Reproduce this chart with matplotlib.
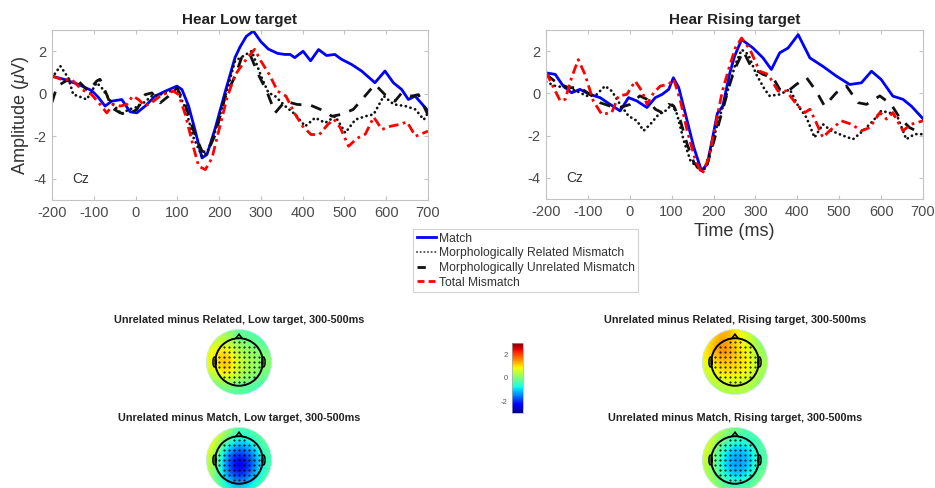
import numpy as np
import matplotlib
matplotlib.use('Agg')
import matplotlib.pyplot as plt
from matplotlib.patches import Circle, Polygon, Ellipse
from matplotlib.lines import Line2D
from matplotlib.colors import Normalize
import matplotlib.colorbar as mcolorbar

plt.rcParams['font.family'] = ['Liberation Sans', 'DejaVu Sans']
plt.rcParams['mathtext.fontset'] = 'custom'
plt.rcParams['mathtext.it'] = 'Liberation Sans:italic'
plt.rcParams['mathtext.rm'] = 'Liberation Sans'
plt.rcParams['axes.unicode_minus'] = False

# ---------------- ERP data (Cz) ----------------
# Hear Low target
low_match_t = [-200,-170,-137,-105,-90,-73,-57,-33,-13,3,23,47,71,99,111,127,143,159,171,191,215,
               238,250,265,282,300,318,340,357,370,381,401,419,438,457,477,493,517,541,573,597,617,637,653,669,700]
low_match_v = [0.83,0.67,0.44,0.15,-0.15,-0.58,-0.35,-0.27,-0.85,-0.9,-0.58,-0.11,0.12,0.36,0.2,-0.58,-1.76,-3.02,-2.86,-1.6,0.12,
               1.7,2.2,2.7,2.95,2.45,2.1,1.9,1.85,1.85,1.7,2.0,1.55,2.08,1.8,1.85,1.62,1.38,1.07,0.52,1.07,0.52,0.2,-0.27,-0.11,-0.8]

low_rel_t = [-200,-180,-161,-149,-137,-117,-105,-93,-81,-57,-33,-17,-1,19,39,59,83,99,119,139,159,171,191,214,
             238,278,302,318,334,358,382,406,430,454,478,502,526,550,570,594,618,646,670,690,700]
low_rel_v = [0.75,1.3,0.75,-0.04,-0.11,-0.27,0.12,0.52,0.28,-0.43,-0.97,-0.74,-0.66,-0.43,-0.11,-0.04,0.12,0.2,-0.66,-2.08,-2.94,-2.78,-1.76,-0.19,
             1.54,2.01,0.75,0.05,-0.11,-0.58,-0.97,-1.53,-1.13,-1.37,-1.06,-1.84,-1.22,-1.06,-0.97,-0.11,-0.5,-0.58,-0.74,-1.22,-0.9]

low_unrel_t = [-200,-188,-161,-137,-113,-93,-85,-69,-57,-37,-17,3,23,39,59,79,99,119,139,159,171,191,214,
               238,254,274,294,314,334,358,386,420,450,470,493,521,549,573,597,621,637,661,677,700]
low_unrel_v = [-0.4,0.35,0.67,0.6,0.12,0.6,0.68,-0.04,-0.66,-0.9,-0.97,-0.74,-0.04,0.04,-0.43,-0.11,0.28,-0.5,-1.76,-2.7,-2.78,-1.92,-0.19,
               0.83,1.7,1.85,0.9,0.12,-0.9,-0.35,-0.5,-0.55,-0.8,-1.06,-0.97,-0.74,-0.11,0.44,-0.04,-0.35,0.04,-0.11,-0.04,-1.0]

low_total_t = [-200,-177,-153,-129,-105,-85,-69,-53,-37,-21,-7,7,23,43,63,91,103,119,139,151,167,183,199,219,
               238,250,265,285,300,320,340,360,380,400,420,440,460,475,490,510,530,550,570,590,610,630,650,670,700]
low_total_v = [0.83,0.67,0.67,0.2,-0.04,-0.5,-0.9,-0.5,-0.58,-0.5,-0.11,-0.27,-0.58,-0.35,-0.04,0.12,-0.04,-0.97,-2.55,-3.41,-3.57,-3.02,-1.76,-0.19,
               0.87,1.22,1.62,2.09,1.54,0.91,0.12,-0.11,-0.9,-1.53,-1.92,-1.92,-1.45,-1.2,-1.6,-2.47,-2.1,-1.9,-1.1,-1.68,-1.53,-1.45,-1.33,-2.0,-1.76]

# Hear Rising target
rise_match_t = [-200,-178,-159,-139,-119,-95,-71,-47,-23,-3,17,41,61,77,93,104,117,137,153,171,185,201,209,222,238,250,
                267,294,318,338,358,378,402,430,461,493,525,553,577,600,628,652,672,700]
rise_match_v = [0.97,0.9,0.35,0.03,0.19,-0.05,-0.2,-0.52,-0.83,-0.2,-0.36,-0.67,-0.2,-0.05,0.19,0.74,0.27,-1.3,-2.56,-3.66,-3.35,-1.77,-0.95,-0.6,0.9,1.75,
                2.55,2.15,1.68,1.13,1.92,2.15,2.78,1.68,1.28,0.82,0.42,0.5,1.05,0.66,-0.13,-0.28,-0.6,-1.2]

rise_rel_t = [-200,-178,-150,-127,-103,-79,-59,-43,-23,-3,17,33,49,69,85,101,113,129,145,161,177,193,209,229,252,
              267,283,302,322,334,358,382,402,422,441,461,481,509,533,557,581,600,620,640,660,680,700]
rise_rel_v = [0.55,0.35,0.27,0.11,-0.12,-0.05,0.35,0.11,-0.52,-1.07,-1.3,-1.77,-1.46,-0.99,-0.83,-0.52,-0.99,-2.25,-3.19,-3.5,-3.66,-2.72,-1.46,-0.2,1.37,
              2.07,1.84,0.9,0.19,-0.12,-0.05,0.19,-0.6,-1.15,-2.09,-1.46,-1.77,-2.0,-2.17,-1.77,-1.3,-0.83,-0.91,-1.15,-2.17,-1.93,-1.93]

rise_unrel_t = [-200,-174,-146,-119,-95,-71,-47,-23,1,24,41,61,77,93,105,121,137,153,169,185,201,221,241,252,
                271,291,318,342,358,378,398,422,445,465,493,517,545,565,597,624,644,668,700]
rise_unrel_v = [0.9,0.5,0.27,0.27,-0.05,-0.44,-0.6,-0.67,-0.52,-0.12,-0.28,-0.75,-0.91,-0.52,-0.6,-1.3,-2.41,-3.27,-3.66,-3.35,-2.25,-0.83,0.58,1.21,
                2.0,1.21,0.9,0.74,0.19,0.11,0.43,0.74,0.11,-0.6,0.03,0.35,-0.44,-0.52,-0.12,-0.52,-1.15,-1.62,-1.93]

rise_total_t = [-200,-166,-154,-139,-123,-107,-87,-67,-43,-27,-7,13,29,41,57,73,93,105,121,137,157,173,189,205,221,237,252,
                267,287,310,330,354,374,398,418,430,445,461,477,505,529,553,573,597,613,628,652,672,700]
rise_total_v = [1.0,-0.36,-0.28,0.74,1.6,0.9,-0.36,-0.99,-0.91,-0.12,-0.05,0.58,0.11,-0.52,0.03,0.35,0.43,0.66,-0.36,-1.77,-3.19,-3.82,-3.03,-1.46,0.11,1.21,2.15,
                2.62,2.07,1.05,0.9,0.11,0.11,-0.52,-0.91,-0.75,-1.38,-2.09,-1.77,-1.3,-1.46,-1.77,-1.62,-0.91,-1.22,-0.91,-1.77,-1.46,-1.3]

legend_labels = ['Match', 'Morphologically Related Mismatch',
                 'Morphologically Unrelated Mismatch', 'Total Mismatch']
x_ticks = [-200, -100, 0, 100, 200, 300, 400, 500, 600, 700]
y_ticks = [-4, -2, 0, 2]

# ---------------- Topographic map values (5x5 grid, front row first) ----------------
topo_low_rel = [[0.2, 0.3, -0.3, -0.3, -0.6],
                [0.8, 1.1, 0.3, 0.2, -0.1],
                [0.8, 1.6, 0.5, 0.3, 0.1],
                [0.4, 1.2, 0.4, 0.2, -0.1],
                [-0.4, -0.2, -0.3, -0.4, -0.6]]
topo_low_match = [[1.1, 0.4, -0.5, -0.3, 0.0],
                  [0.9, -0.8, -1.5, -1.0, -0.2],
                  [0.6, -1.6, -2.7, -1.9, -0.4],
                  [0.4, -1.4, -2.5, -1.6, -0.3],
                  [0.3, -0.6, -1.0, -0.6, 0.0]]
topo_rise_rel = [[0.7, 1.5, 1.0, 0.6, -0.1],
                 [1.0, 1.9, 1.2, 0.8, 0.1],
                 [0.8, 1.3, 1.1, 1.0, 0.3],
                 [0.5, 1.0, 1.0, 0.8, 0.2],
                 [0.2, 0.3, 0.4, 0.3, 0.0]]
topo_rise_match = [[0.9, 0.3, 0.0, -0.4, -0.2],
                   [0.8, -0.5, -1.1, -0.9, -0.2],
                   [0.6, -0.9, -1.5, -1.3, -0.3],
                   [0.4, -0.7, -1.3, -1.0, 0.0],
                   [0.6, 0.0, -0.4, -0.2, 0.3]]
topo_titles = ['Unrelated minus Related, Low target, 300-500ms',
               'Unrelated minus Match, Low target, 300-500ms',
               'Unrelated minus Related, Rising target, 300-500ms',
               'Unrelated minus Match, Rising target, 300-500ms']
cbar_ticks = [-2, 0, 2]

# ---------------- Figure ----------------
W, H = 935, 488
fig = plt.figure(figsize=(W / 100, H / 100), dpi=100)

def fx(px):
    return px / W

def fy(py):
    return 1 - py / H

axL = fig.add_axes([fx(52), fy(200), fx(376), 170 / H])
axR = fig.add_axes([fx(546), fy(199), fx(377), 169 / H])

DOT = (0, (0.05, 1.7))
DASH = (0, (4.0, 3.5))
DASHDOT = (0, (3.5, 1.6, 1.0, 1.6))

def plot_erp(ax, m, r, u, tt, title):
    ax.plot(m[0], m[1], color=(0, 0, 1), lw=2.0, solid_joinstyle='round')
    ax.plot(r[0], r[1], color='#111111', lw=2.0, linestyle=DOT, dash_capstyle='round')
    ax.plot(u[0], u[1], color='#111111', lw=2.0, linestyle=DASH)
    ax.plot(tt[0], tt[1], color=(1, 0, 0), lw=2.0, linestyle=DASHDOT)
    ax.set_xlim(-200, 700)
    ax.set_ylim(-5, 3)
    ax.set_xticks(x_ticks)
    ax.set_yticks(y_ticks)
    for s in ax.spines.values():
        s.set_color('#c4c4c4')
        s.set_linewidth(0.8)
    ax.tick_params(direction='in', length=3, color='#c4c4c4', labelcolor='#4a4a4a',
                   labelsize=10.5, top=True, right=True, pad=4)
    ax.set_title(title, fontweight='bold', fontsize=11, pad=4, color='#222222')
    ax.text(-152, -4, 'Cz', fontsize=10, color='#333333', va='center')

plot_erp(axL, (low_match_t, low_match_v), (low_rel_t, low_rel_v),
         (low_unrel_t, low_unrel_v), (low_total_t, low_total_v), 'Hear Low target')
plot_erp(axR, (rise_match_t, rise_match_v), (rise_rel_t, rise_rel_v),
         (rise_unrel_t, rise_unrel_v), (rise_total_t, rise_total_v), 'Hear Rising target')

axL.set_ylabel('Amplitude ($\\mu$V)', fontsize=13, color='#333333', labelpad=2)
axR.set_xlabel('Time (ms)', fontsize=13, color='#333333', labelpad=3)

handles = [Line2D([], [], color=(0, 0, 1), lw=2.0),
           Line2D([], [], color='#555555', lw=1.5, linestyle=DOT, dash_capstyle='round'),
           Line2D([], [], color='#111111', lw=2.0, linestyle=(0, (3.0, 8.0))),
           Line2D([], [], color=(1, 0, 0), lw=2.0, linestyle=(0, (2.5, 1.5)))]
leg = fig.legend(handles, legend_labels, loc='upper left',
                 bbox_to_anchor=(fx(413), fy(229)), fontsize=8.7,
                 frameon=True, fancybox=False, edgecolor='#c8c8c8',
                 handlelength=1.6, handletextpad=0.25, labelspacing=0.22,
                 borderpad=0.3, borderaxespad=0.0)
leg.get_frame().set_linewidth(0.8)
for t in leg.get_texts():
    t.set_color('#333333')

# ---------------- Topographic maps ----------------
norm = Normalize(vmin=-3, vmax=3)
cmap = plt.get_cmap('jet')

def topo(cx, cy, r, grid, title, ty):
    ax = fig.add_axes([fx(cx - r), fy(cy + r), fx(2 * r), 2 * r / H])
    ax.set_xlim(-1, 1)
    ax.set_ylim(-1, 1)
    ax.set_aspect('auto')
    ax.axis('off')
    im = ax.imshow(np.array(grid), extent=[-1, 1, -1, 1], origin='upper',
                   cmap=cmap, norm=norm, interpolation='bicubic')
    clip = Circle((0, 0), 0.99, transform=ax.transData)
    im.set_clip_path(clip)
    ax.add_patch(Circle((0, 0), 0.99, fill=False, ec='#cde8f5', lw=0.6))
    hr = 0.72
    ax.add_patch(Circle((0, 0), hr, fill=False, ec='black', lw=1.4))
    ax.add_patch(Polygon([[-0.1, hr - 0.01], [0, hr + 0.12], [0.1, hr - 0.01]],
                         closed=False, fill=False, ec='black', lw=1.2))
    ax.add_patch(Ellipse((-hr - 0.02, 0.0), 0.1, 0.3, fill=False, ec='black', lw=1.1))
    ax.add_patch(Ellipse((hr + 0.02, 0.0), 0.1, 0.3, fill=False, ec='black', lw=1.1))
    g = np.arange(-0.6, 0.61, 0.15)
    gx, gy = np.meshgrid(g, g)
    mask = gx ** 2 + gy ** 2 < 0.64 ** 2
    ax.plot(gx[mask], gy[mask], 'k.', ms=1.0)
    fig.text(fx(cx), fy(ty), title, fontsize=7.8, fontweight='bold',
             ha='center', va='center', color='#222222')
    return ax

topo(239, 362, 33, topo_low_rel, topo_titles[0], 320)
topo(239, 460, 33, topo_low_match, topo_titles[1], 418)
topo(735, 362, 33, topo_rise_rel, topo_titles[2], 320)
topo(735, 460, 33, topo_rise_match, topo_titles[3], 418)

cax = fig.add_axes([fx(512), fy(413), fx(11), 70 / H])
cb = mcolorbar.ColorbarBase(cax, cmap=cmap, norm=norm, orientation='vertical', ticks=cbar_ticks)
cax.yaxis.set_ticks_position('left')
cax.tick_params(labelsize=5.5, labelcolor='#555555', length=0, pad=3)
cb.outline.set_edgecolor('#aaaaaa')
cb.outline.set_linewidth(0.5)

fig.savefig('out.png', dpi=100)
